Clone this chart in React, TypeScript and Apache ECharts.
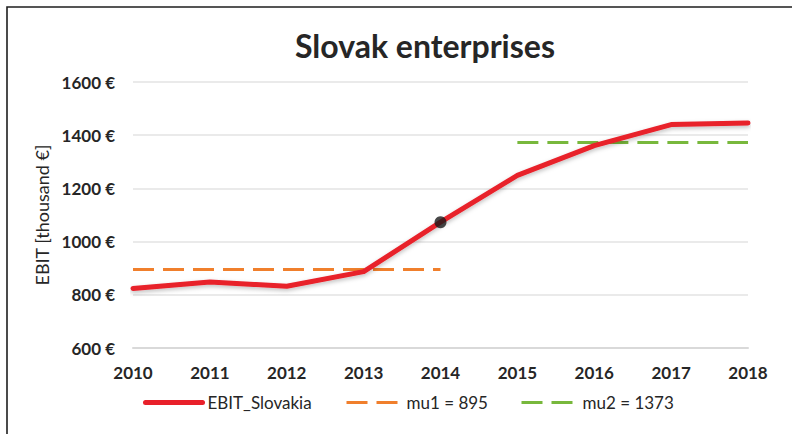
import React, { useEffect, useRef } from "react";
import * as echarts from "echarts";

const years = [2010, 2011, 2012, 2013, 2014, 2015, 2016, 2017, 2018];
const ebit = [824, 848, 832, 887, 1073, 1249, 1361, 1440, 1446];
const mu1Years = [2010, 2014];
const mu1Value = 895;
const mu2Years = [2015, 2018];
const mu2Value = 1373;
const markedYear = 2014;
const yTicks = { min: 600, max: 1600, interval: 200 };
const titleText = "Slovak enterprises";
const seriesNames = ["EBIT_Slovakia", "mu1 = 895", "mu2 = 1373"];

const FONT = "Lato, 'Open Sans', sans-serif";
const TXT = "#262626";
const RED = "#E8202A";
const ORANGE = "#F07F2C";
const GREEN = "#78B83C";
const DASH = [21, 9];

export default function App() {
  const ref = useRef<HTMLDivElement>(null);
  useEffect(() => {
    if (!ref.current) return;
    const chart = echarts.init(ref.current, null, { renderer: "svg" });
    const markIdx = years.indexOf(markedYear);
    const legendBase = {
      top: 394,
      itemHeight: 14,
      textStyle: { fontFamily: FONT, fontSize: 17, color: TXT },
      selectedMode: false,
      padding: 0,
      itemStyle: { opacity: 0 },
    };
    chart.setOption({
      animation: false,
      backgroundColor: "#ffffff",
      textStyle: { fontFamily: FONT },
      graphic: [
        {
          type: "rect",
          shape: { x: 7, y: 7, width: 900, height: 600 },
          style: { fill: "none", stroke: "#1e1e1e", lineWidth: 1.6 },
          silent: true,
        },
        {
          type: "text",
          x: 425,
          y: 45,
          style: {
            text: titleText,
            align: "center",
            verticalAlign: "middle",
            font: `bold 32px ${FONT}`,
            fill: TXT,
          },
        },
      ],
      grid: { left: 133, right: 44, top: 82, bottom: 86, containLabel: false },
      xAxis: {
        type: "value",
        min: years[0],
        max: years[years.length - 1],
        interval: 1,
        axisLine: { show: true, lineStyle: { color: "#d9d9d9", width: 2 } },
        axisTick: { show: false },
        splitLine: { show: false },
        axisLabel: {
          margin: 16,
          fontSize: 17,
          fontWeight: "bold",
          color: TXT,
          fontFamily: FONT,
          formatter: (v: number) => String(v),
        },
      },
      yAxis: {
        type: "value",
        min: yTicks.min,
        max: yTicks.max,
        interval: yTicks.interval,
        name: "EBIT [thousand €]",
        nameLocation: "middle",
        nameRotate: 90,
        nameGap: 79,
        nameTextStyle: { fontSize: 18, color: TXT, fontFamily: FONT },
        axisLine: { show: false },
        axisTick: { show: false },
        splitLine: { lineStyle: { color: "#e3e3e3", width: 1.5 } },
        axisLabel: {
          margin: 18,
          fontSize: 17,
          fontWeight: "bold",
          color: TXT,
          fontFamily: FONT,
          formatter: (v: number) => `${v} €`,
        },
      },
      legend: [
        {
          ...legendBase,
          left: 143,
          itemWidth: 57,
          lineStyle: { color: RED, width: 5, cap: "round" },
          data: [seriesNames[0]],
        },
        {
          ...legendBase,
          left: 345,
          itemWidth: 55,
          lineStyle: { color: ORANGE, width: 3, type: DASH },
          data: [seriesNames[1]],
        },
        {
          ...legendBase,
          left: 520,
          itemWidth: 56,
          lineStyle: { color: GREEN, width: 3, type: DASH },
          data: [seriesNames[2]],
        },
      ],
      series: [
        {
          name: seriesNames[1],
          type: "line",
          symbol: "none",
          data: mu1Years.map((y) => [y, mu1Value]),
          lineStyle: { color: ORANGE, width: 3, type: DASH },
          itemStyle: { color: ORANGE },
          z: 2,
        },
        {
          name: seriesNames[2],
          type: "line",
          symbol: "none",
          data: mu2Years.map((y) => [y, mu2Value]),
          lineStyle: { color: GREEN, width: 3, type: DASH },
          itemStyle: { color: GREEN },
          z: 2,
        },
        {
          name: seriesNames[0],
          type: "line",
          symbol: "none",
          data: years.map((y, i) => [y, ebit[i]]),
          lineStyle: {
            color: RED,
            width: 5,
            cap: "round",
            join: "round",
            shadowBlur: 4,
            shadowColor: "rgba(0,0,0,0.25)",
            shadowOffsetY: 2,
          },
          itemStyle: { color: RED },
          z: 3,
        },
        {
          name: "marked",
          type: "scatter",
          symbol: "circle",
          symbolSize: 12,
          data: [[markedYear, ebit[markIdx]]],
          itemStyle: { color: "#1a1a1a" },
          z: 4,
        },
      ],
    });
    return () => chart.dispose();
  }, []);
  return (
    <div
      ref={ref}
      style={{ position: "fixed", left: 0, top: 0, width: 792, height: 434 }}
    />
  );
}
